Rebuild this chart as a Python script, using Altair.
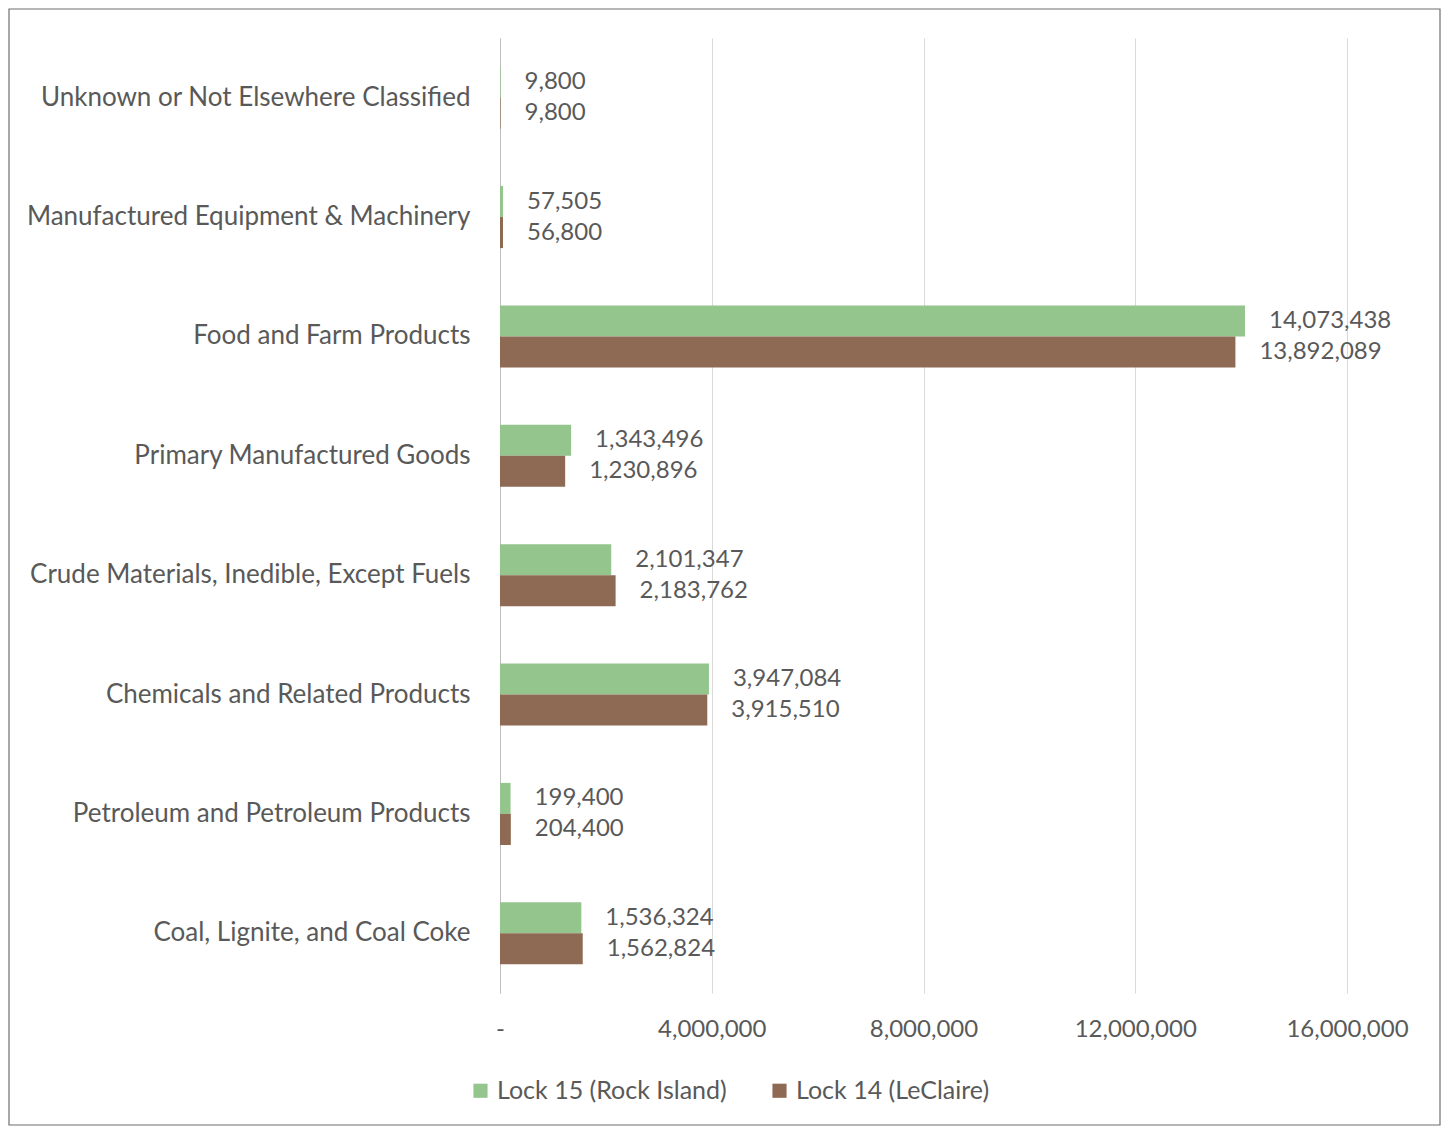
import altair as alt
import pandas as pd

categories = [
    "Unknown or Not Elsewhere Classified",
    "Manufactured Equipment & Machinery",
    "Food and Farm Products",
    "Primary Manufactured Goods",
    "Crude Materials, Inedible, Except Fuels",
    "Chemicals and Related Products",
    "Petroleum and Petroleum Products",
    "Coal, Lignite, and Coal Coke",
]
series = ["Lock 15 (Rock Island)", "Lock 14 (LeClaire)"]
lock15 = [9800, 57505, 14073438, 1343496, 2101347, 3947084, 199400, 1536324]
lock14 = [9800, 56800, 13892089, 1230896, 2183762, 3915510, 204400, 1562824]
x_ticks = [0, 4000000, 8000000, 12000000, 16000000]
colors = ["#93C58D", "#8E6A55"]

rows = []
for c, a, b in zip(categories, lock15, lock14):
    rows.append({"category": c, "series": series[0], "value": a})
    rows.append({"category": c, "series": series[1], "value": b})
df = pd.DataFrame(rows)

FONT = "Lato"
TXT = "#595959"

y_enc = alt.Y("category:N", sort=categories,
              scale=alt.Scale(paddingInner=0.48, paddingOuter=0.24),
              axis=alt.Axis(title=None, labelFontSize=26, labelColor=TXT, labelFont=FONT,
                            labelPadding=30, ticks=False, domainColor="#bfbfbf",
                            labelLimit=600))
yoff = alt.YOffset("series:N", sort=series, scale=alt.Scale(paddingInner=0, paddingOuter=0))

base = alt.Chart(df)

bars = base.mark_bar().encode(
    y=y_enc,
    yOffset=yoff,
    x=alt.X("value:Q", scale=alt.Scale(domain=[0, 16000000], nice=False),
            axis=alt.Axis(title=None, values=x_ticks, grid=True, gridColor="#d9d9d9",
                          domain=False, ticks=False, labelFontSize=24, labelColor=TXT,
                          labelFont=FONT, labelPadding=24, labelFlush=False,
                          labelExpr="datum.value == 0 ? '-' : format(datum.value, ',')")),
    color=alt.Color("series:N", sort=series,
                    scale=alt.Scale(domain=series, range=colors),
                    legend=alt.Legend(title=None, orient="none", direction="horizontal",
                                      legendX=-32, legendY=1040, symbolType="square",
                                      symbolSize=200, symbolStrokeWidth=0,
                                      labelFontSize=25, labelColor=TXT, labelFont=FONT,
                                      labelLimit=400, columnPadding=40, labelOffset=4)),
)

labels = base.mark_text(align="left", baseline="middle", dx=24, fontSize=24,
                        font=FONT, color=TXT).encode(
    y=alt.Y("category:N", sort=categories),
    yOffset=yoff,
    x="value:Q",
    text=alt.Text("value:Q", format=","),
)

frame = alt.Chart(pd.DataFrame({"k": [0]})).mark_rect(
    fill=None, stroke="#6f6f6f", strokeWidth=1.2).encode(
    x=alt.value(-491), x2=alt.value(940), y=alt.value(-29), y2=alt.value(1087))

chart = alt.layer(bars, labels, frame).properties(
    width=847, height=955,
    background="white",
    autosize=alt.AutoSizeParams(type="none"),
    padding={"left": 492, "top": 30, "right": 94, "bottom": 134},
).configure_view(strokeWidth=0, stroke="transparent")

chart.save("out.html", embed_options={"renderer": "svg", "actions": False})
